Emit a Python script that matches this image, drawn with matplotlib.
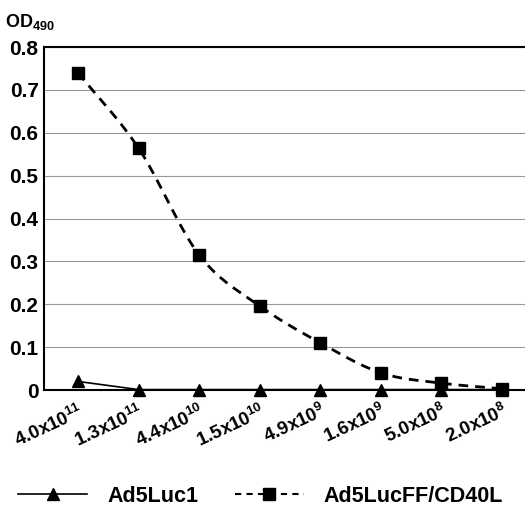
import numpy as np
import matplotlib.pyplot as plt
import matplotlib.transforms as mtransforms
from matplotlib.lines import Line2D

plt.rcParams['font.family'] = ['Liberation Sans', 'DejaVu Sans']
plt.rcParams['font.weight'] = 'bold'
plt.rcParams['mathtext.default'] = 'regular'

doses = ['4.0x10$^{11}$', '1.3x10$^{11}$', '4.4x10$^{10}$', '1.5x10$^{10}$',
         '4.9x10$^{9}$', '1.6x10$^{9}$', '5.0x10$^{8}$', '2.0x10$^{8}$']
ad5luc1 = [0.020, 0.001, 0.001, 0.001, 0.001, 0.001, 0.001, 0.001]
cd40l = [0.740, 0.564, 0.315, 0.196, 0.110, 0.040, 0.016, 0.003]
yticks = [0, 0.1, 0.2, 0.3, 0.4, 0.5, 0.6, 0.7, 0.8]


def smooth(y, n=20):
    # catmull-rom smoothing like the spreadsheet "smoothed line"
    y = np.asarray(y, float)
    p = np.concatenate([[2*y[0]-y[1]], y, [2*y[-1]-y[-2]]])
    xs, ys = [], []
    for i in range(len(y)-1):
        t = np.linspace(0, 1, n, endpoint=False)
        p0, p1, p2, p3 = p[i], p[i+1], p[i+2], p[i+3]
        v = 0.5*((2*p1) + (-p0+p2)*t + (2*p0-5*p1+4*p2-p3)*t**2 + (-p0+3*p1-3*p2+p3)*t**3)
        xs.append(i+t)
        ys.append(v)
    xs.append([len(y)-1])
    ys.append([y[-1]])
    return np.concatenate(xs), np.concatenate(ys)


fig = plt.figure(figsize=(5.25, 5.17), dpi=100)
ax = fig.add_axes([0.084, 0.2456, 0.93, 0.6634])

x = np.arange(len(doses))
sx, sy = smooth(cd40l)
ax.plot(sx, sy, 'k-', lw=2, dashes=(3.5, 2.5))
ax.plot(x, cd40l, 'ks', ms=9, ls='none', clip_on=False, zorder=4)
ax.plot(x, ad5luc1, 'k-', lw=1.2, marker='^', ms=9, clip_on=False, zorder=5)

ax.set_xlim(-0.56, 7.5)
ax.set_ylim(0, 0.8)
ax.set_yticks(yticks)
ax.set_yticklabels(['0' if v == 0 else f'{v:.1f}' for v in yticks], fontsize=15, fontweight='bold')
ax.yaxis.grid(True, color='#999999', lw=0.8)
ax.set_axisbelow(True)
ax.set_xticks(x)
ax.set_xticklabels([])
off = ax.get_xaxis_transform() + mtransforms.ScaledTranslation(0.0, -0.11, fig.dpi_scale_trans)
for xi, lab in zip(x, doses):
    ax.text(xi, 0, lab, transform=off, rotation=25, rotation_mode='anchor',
            ha='right', va='top', fontsize=13.5, fontweight='bold')
ax.tick_params(axis='both', length=0, pad=4)
for s in ['left', 'top', 'bottom']:
    ax.spines[s].set_linewidth(1.5)
ax.spines['right'].set_visible(False)

fig.text(0.01, 0.948, 'OD$_{490}$', fontsize=13, fontweight='bold')

handles = [Line2D([], [], color='k', lw=1.2, marker='^', ms=9),
           Line2D([], [], color='k', lw=1.5, ls='--', dashes=(3, 2.5), marker='s', ms=9)]
fig.legend(handles, ['Ad5Luc1', 'Ad5LucFF/CD40L'], loc='lower left',
           bbox_to_anchor=(0.035, 0.02), ncol=2, frameon=False,
           borderpad=0, borderaxespad=0,
           handlelength=3.2, handletextpad=0.93, columnspacing=1.7,
           prop={'weight': 'bold', 'size': 15.5})
fig.savefig('out.png', dpi=100)
